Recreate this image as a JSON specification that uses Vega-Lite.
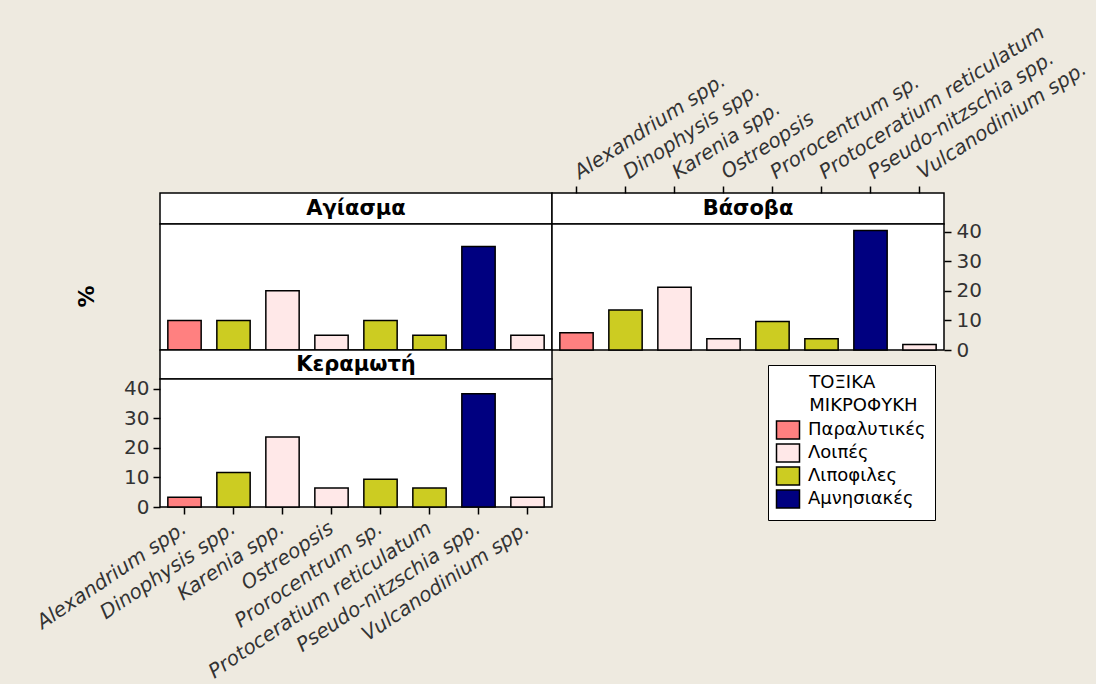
{
  "$schema": "https://vega.github.io/schema/vega-lite/v6.json",
  "background": "#EEEAE0",
  "padding": {"left": 32, "top": 21, "right": 5, "bottom": 5},
  "config": {
    "font": "DejaVu Sans",
    "view": {"stroke": "#000", "strokeWidth": 1.5, "fill": "white"},
    "axis": {"labelFont": "DejaVu Sans", "labelColor": "#333", "tickColor": "#000", "tickWidth": 1.5, "tickSize": 7, "domain": false, "grid": false, "labelLimit": 0},
    "legend": {
      "orient": "none", "legendX": 608, "legendY": 172,
      "titleFont": "DejaVu Sans", "titleFontSize": 18, "titleFontWeight": "normal", "titleColor": "#000", "titleLineHeight": 23, "titlePadding": 4,
      "labelFont": "DejaVu Sans", "labelFontSize": 18, "labelColor": "#000", "labelOffset": 9,
      "symbolType": "M-1.15,-0.9H1.15V0.9H-1.15Z", "symbolSize": 400, "symbolStrokeColor": "#000", "symbolStrokeWidth": 1.5,
      "fillColor": "white", "strokeColor": "#000", "padding": 9, "rowPadding": -2
    }
  },
  "datasets": {
    "d": [
      {"station": "Αγίασμα", "species": "Alexandrium spp.", "group": "Παραλυτικές", "value": 10},
      {"station": "Αγίασμα", "species": "Dinophysis spp.", "group": "Λιποφιλες", "value": 10},
      {"station": "Αγίασμα", "species": "Karenia spp.", "group": "Λοιπές", "value": 20},
      {"station": "Αγίασμα", "species": "Ostreopsis", "group": "Λοιπές", "value": 5},
      {"station": "Αγίασμα", "species": "Prorocentrum sp.", "group": "Λιποφιλες", "value": 10},
      {"station": "Αγίασμα", "species": "Protoceratium reticulatum", "group": "Λιποφιλες", "value": 5},
      {"station": "Αγίασμα", "species": "Pseudo-nitzschia spp.", "group": "Αμνησιακές", "value": 35},
      {"station": "Αγίασμα", "species": "Vulcanodinium spp.", "group": "Λοιπές", "value": 5},
      {"station": "Βάσοβα", "species": "Alexandrium spp.", "group": "Παραλυτικές", "value": 5.8},
      {"station": "Βάσοβα", "species": "Dinophysis spp.", "group": "Λιποφιλες", "value": 13.5},
      {"station": "Βάσοβα", "species": "Karenia spp.", "group": "Λοιπές", "value": 21.2},
      {"station": "Βάσοβα", "species": "Ostreopsis", "group": "Λοιπές", "value": 3.8},
      {"station": "Βάσοβα", "species": "Prorocentrum sp.", "group": "Λιποφιλες", "value": 9.6},
      {"station": "Βάσοβα", "species": "Protoceratium reticulatum", "group": "Λιποφιλες", "value": 3.8},
      {"station": "Βάσοβα", "species": "Pseudo-nitzschia spp.", "group": "Αμνησιακές", "value": 40.4},
      {"station": "Βάσοβα", "species": "Vulcanodinium spp.", "group": "Λοιπές", "value": 1.9},
      {"station": "Κεραμωτή", "species": "Alexandrium spp.", "group": "Παραλυτικές", "value": 3.3},
      {"station": "Κεραμωτή", "species": "Dinophysis spp.", "group": "Λιποφιλες", "value": 11.7},
      {"station": "Κεραμωτή", "species": "Karenia spp.", "group": "Λοιπές", "value": 23.7},
      {"station": "Κεραμωτή", "species": "Ostreopsis", "group": "Λοιπές", "value": 6.4},
      {"station": "Κεραμωτή", "species": "Prorocentrum sp.", "group": "Λιποφιλες", "value": 9.4},
      {"station": "Κεραμωτή", "species": "Protoceratium reticulatum", "group": "Λιποφιλες", "value": 6.4},
      {"station": "Κεραμωτή", "species": "Pseudo-nitzschia spp.", "group": "Αμνησιακές", "value": 38.3},
      {"station": "Κεραμωτή", "species": "Vulcanodinium spp.", "group": "Λοιπές", "value": 3.3}
    ]
  },
  "columns": 2,
  "spacing": 0,
  "bounds": "flush",
  "concat": [
    {
      "width": 392, "height": 31,
      "view": {"fill": "white", "stroke": "#000", "strokeWidth": 1.5},
      "data": {"values": [{"station": "Αγίασμα"}]},
      "mark": {"type": "text", "fontSize": 21, "fontWeight": "bold", "color": "#000"},
      "encoding": {"text": {"field": "station"}}
    },
    {
      "width": 392, "height": 31,
      "view": {"fill": "white", "stroke": "#000", "strokeWidth": 1.5},
      "layer": [
        {
          "data": {"name": "d"},
          "transform": [{"filter": "datum.station === 'Βάσοβα'"}],
          "mark": {"type": "tick", "opacity": 0},
          "encoding": {
            "x": {"field": "species", "type": "nominal", "sort": null, "scale": {"paddingInner": 0.32, "paddingOuter": 0.16},
                  "axis": {"orient": "top", "title": null, "labelAngle": -33, "labelAlign": "left", "labelBaseline": "middle", "labelPadding": 12, "labelFontSize": 20, "labelFontStyle": "italic"}}
          }
        },
        {
          "data": {"values": [{"station": "Βάσοβα"}]},
          "mark": {"type": "text", "fontSize": 21, "fontWeight": "bold", "color": "#000"},
          "encoding": {"text": {"field": "station"}}
        }
      ]
    },
    {
      "width": 392, "height": 126,
      "data": {"name": "d"},
      "transform": [{"filter": "datum.station === 'Αγίασμα'"}],
      "mark": {"type": "bar", "stroke": "#000", "strokeWidth": 1.5},
      "encoding": {
        "x": {"field": "species", "type": "nominal", "sort": null, "scale": {"paddingInner": 0.32, "paddingOuter": 0.16}, "axis": null},
        "y": {"field": "value", "type": "quantitative", "scale": {"domain": [0, 42.6], "nice": false},
              "axis": {"title": "%", "labels": false, "ticks": false, "domain": false, "titleFontSize": 22, "titleFontWeight": "bold", "titleColor": "#000", "titlePadding": 62, "titleY": 72}},
        "color": {"field": "group", "type": "nominal",
                  "scale": {"domain": ["Παραλυτικές", "Λοιπές", "Λιποφιλες", "Αμνησιακές"], "range": ["#FF8080", "#FFE8E8", "#CCCC22", "#000080"]},
                  "title": ["\u2800\u2800\u2004ΤΟΞΙΚΑ", "\u2800\u2800\u2004ΜΙΚΡΟΦΥΚΗ"]}
      }
    },
    {
      "width": 392, "height": 126,
      "data": {"name": "d"},
      "transform": [{"filter": "datum.station === 'Βάσοβα'"}],
      "mark": {"type": "bar", "stroke": "#000", "strokeWidth": 1.5},
      "encoding": {
        "x": {"field": "species", "type": "nominal", "sort": null, "scale": {"paddingInner": 0.32, "paddingOuter": 0.16}, "axis": null},
        "y": {"field": "value", "type": "quantitative", "scale": {"domain": [0, 42.6], "nice": false},
              "axis": {"orient": "right", "title": null, "values": [0, 10, 20, 30, 40], "labelFontSize": 20, "labelPadding": 5}},
        "color": {"field": "group", "type": "nominal",
                  "scale": {"domain": ["Παραλυτικές", "Λοιπές", "Λιποφιλες", "Αμνησιακές"], "range": ["#FF8080", "#FFE8E8", "#CCCC22", "#000080"]},
                  "title": ["\u2800\u2800\u2004ΤΟΞΙΚΑ", "\u2800\u2800\u2004ΜΙΚΡΟΦΥΚΗ"]}
      }
    },
    {
      "width": 392, "height": 29,
      "view": {"fill": "white", "stroke": "#000", "strokeWidth": 1.5},
      "data": {"values": [{"station": "Κεραμωτή"}]},
      "mark": {"type": "text", "fontSize": 21, "fontWeight": "bold", "color": "#000"},
      "encoding": {"text": {"field": "station"}}
    },
    {
      "width": 392, "height": 29,
      "view": {"stroke": null, "fill": null},
      "data": {"values": [{"station": ""}]},
      "mark": {"type": "text", "opacity": 0},
      "encoding": {"text": {"field": "station"}}
    },
    {
      "width": 392, "height": 128,
      "data": {"name": "d"},
      "transform": [{"filter": "datum.station === 'Κεραμωτή'"}],
      "mark": {"type": "bar", "stroke": "#000", "strokeWidth": 1.5},
      "encoding": {
        "x": {"field": "species", "type": "nominal", "sort": null, "scale": {"paddingInner": 0.32, "paddingOuter": 0.16},
              "axis": {"title": null, "labelAngle": -34, "labelAlign": "right", "labelBaseline": "middle", "labelPadding": 12, "labelFontSize": 20, "labelFontStyle": "italic"}},
        "y": {"field": "value", "type": "quantitative", "scale": {"domain": [0, 43.3], "nice": false},
              "axis": {"title": null, "values": [0, 10, 20, 30, 40], "labelFontSize": 20, "labelPadding": 4}},
        "color": {"field": "group", "type": "nominal",
                  "scale": {"domain": ["Παραλυτικές", "Λοιπές", "Λιποφιλες", "Αμνησιακές"], "range": ["#FF8080", "#FFE8E8", "#CCCC22", "#000080"]},
                  "title": ["\u2800\u2800\u2004ΤΟΞΙΚΑ", "\u2800\u2800\u2004ΜΙΚΡΟΦΥΚΗ"]}
      }
    }
  ]
}
